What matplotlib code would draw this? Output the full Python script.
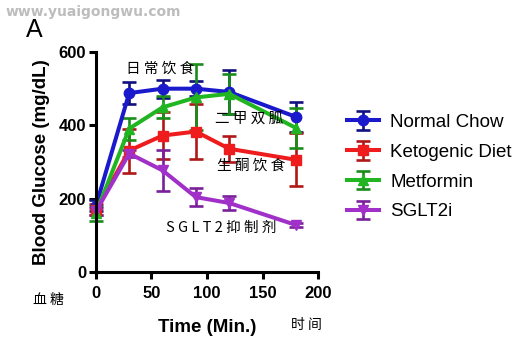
import matplotlib
matplotlib.use("Agg")
import matplotlib.pyplot as plt

plt.rcParams['font.family'] = ['Liberation Sans', 'Noto Sans CJK SC', 'DejaVu Sans']

# time points (min)
time = [0, 30, 60, 90, 120, 180]

# blood glucose (mg/dL) and error bars
normal = [180, 488, 500, 500, 491, 423]
normal_err = [15, 30, 25, 20, 60, 40]
keto = [170, 331, 372, 383, 336, 306]
keto_err = [15, 60, 65, 75, 35, 72]
metformin = [160, 391, 449, 476, 486, 393]
metformin_err = [20, 30, 30, 90, 55, 55]
sglt2 = [165, 323, 277, 204, 188, 128]
sglt2_err = [10, 10, 55, 25, 20, 5]

series = [
    ("Normal Chow", normal, normal_err, "#1a1acc", "#101080", "o"),
    ("Ketogenic Diet", keto, keto_err, "#ee1c1c", "#b01818", "s"),
    ("Metformin", metformin, metformin_err, "#22b522", "#1a8c1a", "^"),
    ("SGLT2i", sglt2, sglt2_err, "#a030c8", "#7a209a", "v"),
]

fig = plt.figure(figsize=(5.24, 3.54), dpi=100)
ax = fig.add_axes([0.183, 0.232, 0.424, 0.621])

handles = []
for name, vals, errs, color, ecolor, marker in series:
    h = ax.errorbar(time, vals, yerr=errs, color=color, ecolor=ecolor,
                    marker=marker, markersize=7.5, lw=2.9, elinewidth=1.9,
                    capsize=5, capthick=1.9, label=name, clip_on=False)
    h.lines[0].set_clip_on(False)
    for art in h.lines[1] + h.lines[2]:
        art.set_clip_on(False)
    handles.append(h)

ax.set_xlim(0, 200)
ax.set_ylim(0, 600)
ax.set_xticks([0, 50, 100, 150, 200])
ax.set_yticks([0, 200, 400, 600])
for s in ['top', 'right']:
    ax.spines[s].set_visible(False)
for s in ['left', 'bottom']:
    ax.spines[s].set_linewidth(2.2)
ax.tick_params(width=2.2, length=5, labelsize=12)
ax.tick_params(axis='x', pad=5)
ax.tick_params(axis='y', pad=2)
for lbl in ax.get_xticklabels() + ax.get_yticklabels():
    lbl.set_fontweight('bold')

ax.set_xlabel("Time (Min.)", fontsize=13.5, fontweight='bold', labelpad=13)
ax.set_ylabel("Blood Glucose (mg/dL)", fontsize=13.5, fontweight='bold', labelpad=6)

cjk = ['Noto Sans CJK SC', 'DejaVu Sans']
ax.text(58, 554, "日 常 饮 食", family=cjk, fontsize=10.5, ha='center', va='center')
ax.text(138, 418, "二 甲 双 胍", family=cjk, fontsize=10.5, ha='center', va='center')
ax.text(140, 290, "生 酮 饮 食", family=cjk, fontsize=10.5, ha='center', va='center')
ax.text(113, 119, "S G L T 2 抑 制 剂", family=cjk, fontsize=10.5, ha='center', va='center')

fig.text(0.092, 0.152, "血 糖", family=cjk, fontsize=10, ha='center', va='center')
fig.text(0.585, 0.082, "时 间", family=cjk, fontsize=10, ha='center', va='center')
fig.text(0.050, 0.915, "A", fontsize=18, ha='left', va='center')
fig.text(0.010, 0.965, "www.yuaigongwu.com", family='DejaVu Sans', fontsize=10,
         fontweight='bold', color='#bdbdbd', ha='left', va='center')

fig.legend(handles=handles, loc='center left', bbox_to_anchor=(0.63, 0.528),
           frameon=False, fontsize=13.5, handlelength=1.7, handletextpad=0.6,
           labelspacing=0.68)

fig.savefig("out.png", dpi=100)
